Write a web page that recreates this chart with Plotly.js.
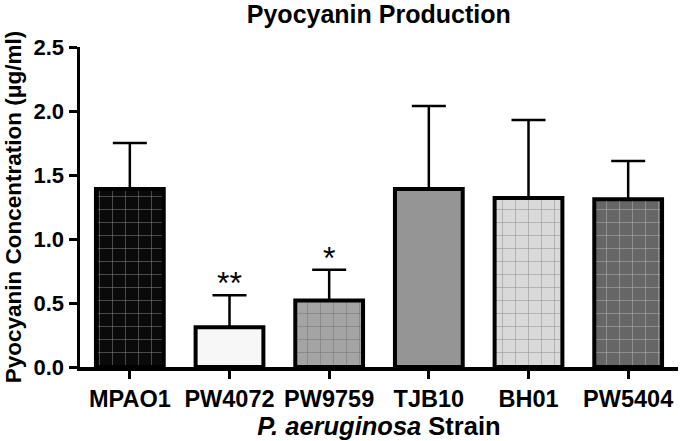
<!DOCTYPE html>
<html><head><meta charset="utf-8">
<script src="https://cdn.plot.ly/plotly-3.0.1.min.js"></script>
<style>body{margin:0;background:#fff}#c{width:680px;height:441px}</style>
</head><body><div id="c"></div>
<script>
const strains = ["MPAO1","PW4072","PW9759","TJB10","BH01","PW5404"];
const means = [1.39, 0.31, 0.52, 1.39, 1.32, 1.31];
const errUpper = [0.36, 0.25, 0.24, 0.65, 0.61, 0.30];
const significance = ["", "**", "*", "", "", ""];
const yTicks = [0, 0.5, 1.0, 1.5, 2.0, 2.5];
const fills = ["#0a0a0a","#f7f7f7","#a4a4a4","#959595","#d9d9d9","#666666"];
const gridColors = ["#3a3a3a","#f7f7f7","#b8b8b8","#959595","#e8e8e8","#7c7c7c"];
const patterns = ["+","","+","","+","+"];

const F = "Liberation Sans, Arial, sans-serif";
const trace = {
  type:"bar", x:strains, y:means, width:0.68,
  marker:{color:fills, line:{color:"#000",width:4},
    pattern:{shape:patterns, fgcolor:gridColors, bgcolor:fills, size:13, solidity:0.08, fillmode:"overlay"}},
  error_y:{type:"data", symmetric:false, array:errUpper, arrayminus:strains.map(()=>0),
    color:"#000", thickness:2.5, width:17},
  hoverinfo:"none"
};
const annotations = strains.map((s,i)=>({
  x:s, y:means[i]+errUpper[i], xref:"x", yref:"y", text:significance[i], showarrow:false,
  yanchor:"bottom", yshift:-8, font:{family:F, size:32, color:"#000"}
})).filter(a=>a.text);

const layout = {
  width:680, height:441, margin:{l:80,r:2,t:47,b:74},
  paper_bgcolor:"#fff", plot_bgcolor:"#fff", showlegend:false,
  title:{text:"<b>Pyocyanin Production</b>", x:0.557, xanchor:"center", y:0.968, yanchor:"middle",
    font:{family:F, size:25, color:"#000"}},
  xaxis:{range:[-0.5,5.5], showline:true, linecolor:"#000", linewidth:3.5, ticks:"outside", ticklen:8, tickwidth:3,
    tickcolor:"#000", showgrid:false, zeroline:false,
    tickfont:{family:F, size:23.5, color:"#000"},
    tickvals:strains, ticktext:strains.map(s=>"<b>"+s+"</b>"),
    title:{text:"<b><i>P. aeruginosa</i> Strain</b>", standoff:2, font:{family:F, size:25.5, color:"#000"}}},
  yaxis:{range:[0,2.5], showline:true, linecolor:"#000", linewidth:3.5,
    ticks:"outside", ticklen:8, tickwidth:3, tickcolor:"#000", showgrid:false, zeroline:false,
    tickvals:yTicks, ticktext:yTicks.map(v=>"<b>"+v.toFixed(1)+"</b>"),
    tickfont:{family:F, size:22, color:"#000"},
    title:{text:"<b>Pyocyanin Concentration (μg/ml)</b>", standoff:6, font:{family:F, size:22.5, color:"#000"}}},
  annotations:annotations
};
Plotly.newPlot("c",[trace],layout,{displayModeBar:false,staticPlot:true});
</script></body></html>
